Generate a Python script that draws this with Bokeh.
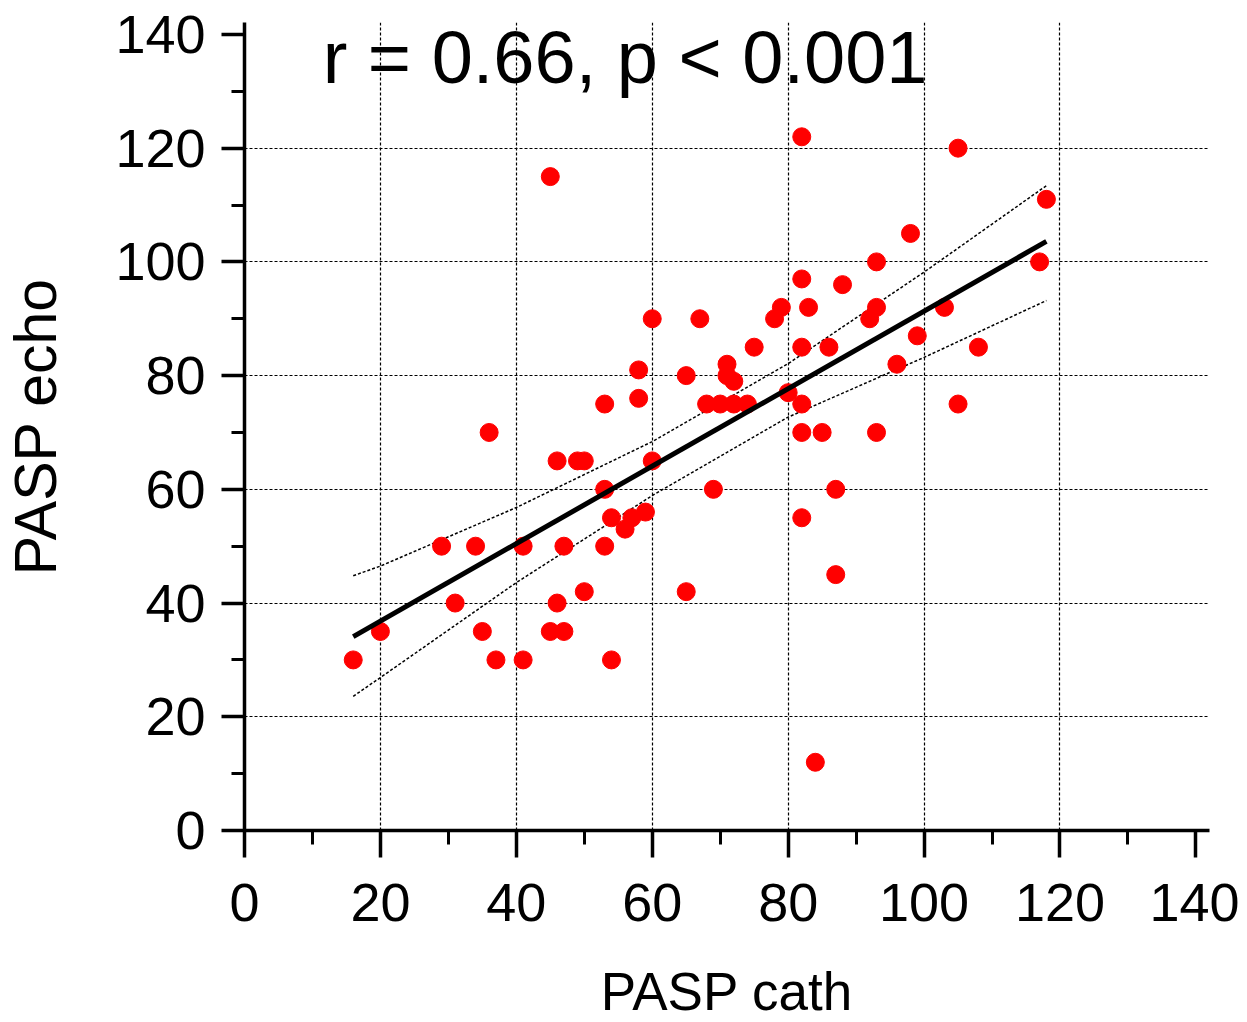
from bokeh.plotting import figure
from bokeh.models import SingleIntervalTicker, FixedTicker, Label, Range1d
from bokeh.embed import file_html
from bokeh.resources import INLINE

# ---- data ----
pasp_cath = [16, 20, 29, 31, 34, 35, 36, 37, 41, 41, 45, 45, 46, 46, 47, 47, 49, 50, 50,
             53, 53, 53, 54, 54, 56, 57, 58, 58, 59, 60, 60, 65, 65, 67, 68, 69, 70, 71,
             71, 72, 72, 74, 75, 78, 79, 80, 82, 82, 82, 82, 82, 82, 83, 84, 85, 86, 87,
             87, 88, 92, 93, 93, 93, 96, 98, 99, 103, 105, 105, 108, 117, 118]
pasp_echo = [30, 35, 50, 40, 50, 35, 70, 30, 50, 30, 115, 35, 65, 40, 50, 35, 65, 65, 42,
             75, 60, 50, 55, 30, 53, 55, 81, 76, 56, 90, 65, 80, 42, 90, 75, 60, 75, 82,
             80, 79, 75, 75, 85, 90, 92, 77, 122, 97, 85, 75, 70, 55, 92, 12, 70, 85, 60,
             45, 96, 90, 100, 92, 70, 82, 105, 87, 92, 120, 75, 85, 100, 111]

fit_x = [16, 118]
fit_y = [34.1, 103.6]

band_x = [16, 20, 40, 60, 80, 100, 118]
band_upper = [44.8, 46.5, 56.8, 68.4, 82.1, 98.2, 113.4]
band_lower = [23.6, 26.9, 43.6, 58.9, 72.7, 83.2, 93.2]

x_ticks = [0, 20, 40, 60, 80, 100, 120, 140]
y_ticks = [0, 20, 40, 60, 80, 100, 120, 140]
grid_ticks = [20, 40, 60, 80, 100, 120]

stat_text = "r = 0.66, p < 0.001"

FONT = "Liberation Sans"

p = figure(frame_width=965, frame_height=808, output_backend="svg", toolbar_location=None,
           x_range=Range1d(0, 142.0), y_range=Range1d(0, 142.1),
           min_border_left=233, min_border_top=22, min_border_right=30, min_border_bottom=175)
p.outline_line_color = None
p.background_fill_color = "white"

for ax in (p.xaxis, p.yaxis):
    ax.ticker = SingleIntervalTicker(interval=20, num_minor_ticks=2)
    ax.axis_line_width = 3.5
    ax.axis_line_color = "black"
    ax.major_tick_line_width = 3.5
    ax.minor_tick_line_width = 3
    ax.major_tick_in = 0
    ax.minor_tick_in = 0
    ax.major_label_text_font = FONT
    ax.major_label_text_font_size = "54px"
    ax.major_label_text_color = "black"
    ax.axis_label_text_font = FONT
    ax.axis_label_text_font_style = "normal"
    ax.axis_label_text_color = "black"

p.xaxis.major_tick_out = 27
p.xaxis.minor_tick_out = 14
p.yaxis.major_tick_out = 23
p.yaxis.minor_tick_out = 13
p.xaxis.major_label_standoff = 26
p.yaxis.major_label_standoff = 16
p.xaxis.axis_label = "PASP cath"
p.yaxis.axis_label = "PASP echo"
p.xaxis.axis_label_text_font_size = "53px"
p.yaxis.axis_label_text_font_size = "59px"
p.xaxis.axis_label_standoff = 38
p.yaxis.axis_label_standoff = 43

for g in (p.xgrid, p.ygrid):
    g.ticker = FixedTicker(ticks=grid_ticks)
    g.grid_line_color = "black"
    g.grid_line_dash = "3 2"
    g.grid_line_width = 1.2

p.line(band_x, band_upper, line_color="black", line_width=1.5, line_dash="3 2")
p.line(band_x, band_lower, line_color="black", line_width=1.5, line_dash="3 2")
p.scatter(pasp_cath, pasp_echo, size=18, fill_color="#ff0000", line_color="#ff0000")
p.line(fit_x, fit_y, line_color="black", line_width=5)

p.add_layout(Label(x=11.5, y=136.0, text=stat_text, text_font=FONT, text_font_size="74px",
                   text_color="black", text_baseline="alphabetic", text_align="left"))

open("out.html", "w").write(file_html(p, INLINE))
